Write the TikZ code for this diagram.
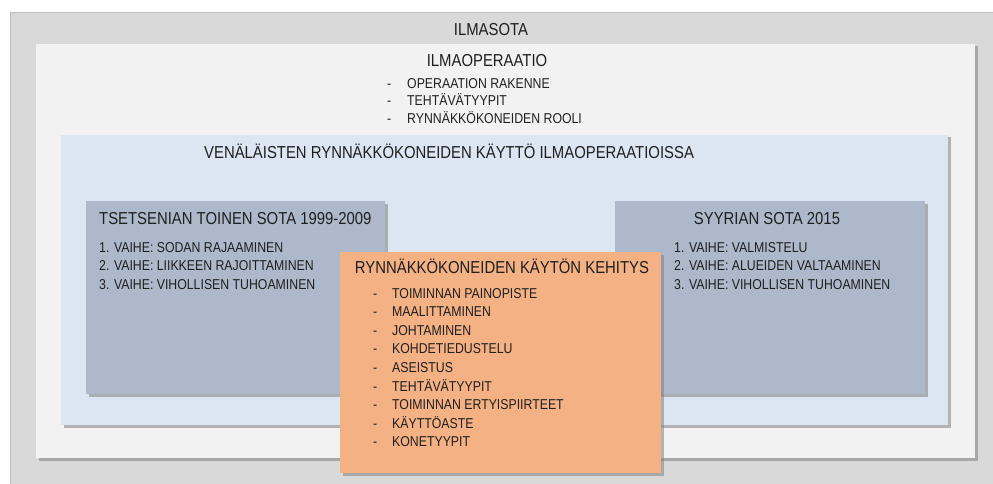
\documentclass[tikz,border=0pt]{standalone}
\usepackage{fontspec}
\setmainfont{Liberation Sans}[FakeStretch=0.86]
\usetikzlibrary{shadows}

\definecolor{sotagray}{HTML}{D9D9D9}
\definecolor{operwhite}{HTML}{F2F2F2}
\definecolor{venblue}{HTML}{DCE6F2}
\definecolor{warslate}{HTML}{ADB9CA}
\definecolor{devorange}{HTML}{F4B183}
\definecolor{txt}{HTML}{1F1F1F}

\tikzset{
  panel/.style={drop shadow={shadow xshift=2.5pt, shadow yshift=-2.5pt, fill=black!50, opacity=0.55}},
  title/.style={font=\fontsize{17.3}{20}\selectfont, text=txt, text height=12.3pt, text depth=0pt, inner sep=0pt},
  item/.style={font=\fontsize{14.3}{17}\selectfont, text=txt, text height=10.3pt, text depth=0pt, inner sep=0pt, anchor=west},
}

\begin{document}
\begin{tikzpicture}[x=1pt, y=-1pt]
\useasboundingbox (0,0) rectangle (993,484);
\fill[white] (0,0) rectangle (993,484);

% boxes
\fill[sotagray] (10,12) rectangle (993,484);
\draw[black!25] (10,484) -- (10,12) -- (993,12);
\path[fill=operwhite, panel] (36,44) rectangle (975,458);
\path[fill=venblue, panel] (61,135) rectangle (948,425);
\path[fill=warslate, panel] (86,201) rectangle (385,394);
\path[fill=warslate, panel] (615,201) rectangle (925,394);
\path[fill=devorange, panel] (340,252) rectangle (661,473);

% titles
\node[title] (ilmasota) at (491,29) {ILMASOTA};
\node[title] (ilmaoper) at (487,60) {ILMAOPERAATIO};
\node[title, anchor=west] (venalaiset) at (204,152) {VENÄLÄISTEN RYNNÄKKÖKONEIDEN KÄYTTÖ ILMAOPERAATIOISSA};
\node[title, anchor=west] (tsetsenia) at (99,218) {TSETSENIAN TOINEN SOTA 1999-2009};
\node[title] (syyria) at (767,218) {SYYRIAN SOTA 2015};
\node[title] (kehitys) at (502,267) {RYNNÄKKÖKONEIDEN KÄYTÖN KEHITYS};

% ilmaoperaatio list
\foreach \t [count=\i] in {OPERAATION RAKENNE, TEHTÄVÄTYYPIT, RYNNÄKKÖKONEIDEN ROOLI} {
  \node[item] (op\i) at (407,{83+17.5*(\i-1)}) {\t};
  \node[item] (opdash\i) at (387,{83+17.5*(\i-1)}) {-};
}

% vaiheet
\foreach \t [count=\i] in {1. VAIHE: SODAN RAJAAMINEN, 2. VAIHE: LIIKKEEN RAJOITTAMINEN, 3. VAIHE: VIHOLLISEN TUHOAMINEN}
  \node[item] (ts\i) at (99,{247+18.5*(\i-1)}) {\t};
\foreach \t [count=\i] in {1. VAIHE: VALMISTELU, 2. VAIHE: ALUEIDEN VALTAAMINEN, 3. VAIHE: VIHOLLISEN TUHOAMINEN}
  \node[item] (sy\i) at (674,{247+18.5*(\i-1)}) {\t};

% kehitys list
\foreach \t [count=\i] in {TOIMINNAN PAINOPISTE, MAALITTAMINEN, JOHTAMINEN, KOHDETIEDUSTELU, ASEISTUS,
  TEHTÄVÄTYYPIT, TOIMINNAN ERTYISPIIRTEET, KÄYTTÖASTE, KONETYYPIT} {
  \node[item] (ke\i) at (392,{293+18.6*(\i-1)}) {\t};
  \node[item] (kedash\i) at (373,{293+18.6*(\i-1)}) {-};
}
\end{tikzpicture}
\end{document}
